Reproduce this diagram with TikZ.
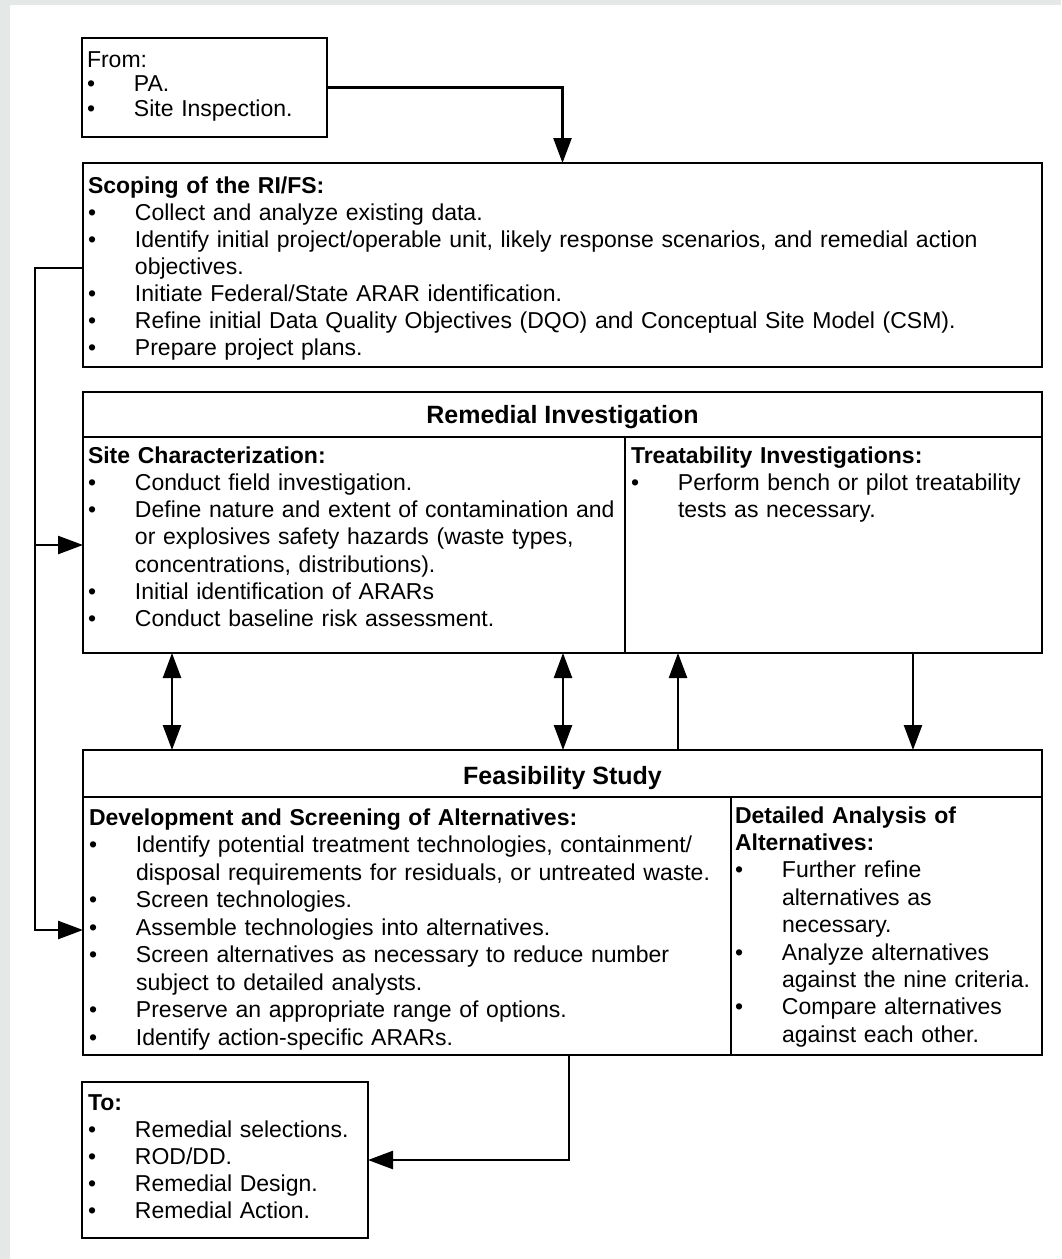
\documentclass[tikz,border=0pt]{standalone}
\usepackage{fontspec}
\setmainfont{Liberation Sans}
\usetikzlibrary{arrows.meta}
\definecolor{bggray}{RGB}{228,233,232}
\newcommand{\bitem}[1]{\par\hangindent=47pt\hangafter=1\noindent\makebox[47pt][l]{\textbullet}#1}
\tikzset{
  box/.style={draw, line width=2.5pt, inner sep=0pt, outer sep=0pt, anchor=north west, fill=white},
  txt/.style={anchor=base west, inner sep=0pt, outer sep=0pt, text width=#1,
    font=\fontsize{23pt}{27.3pt}\selectfont, execute at begin node=\raggedright},
  head/.style={anchor=base, inner sep=0pt, outer sep=0pt, font=\fontsize{25pt}{30pt}\selectfont\bfseries},
  tip/.tip={Triangle[length=25pt,width=18pt]},
  conn/.style={line width=2.5pt, line join=miter},
  arr/.style={conn, -tip},
  darr/.style={conn, tip-tip},
}
\begin{document}
\begin{tikzpicture}[x=1pt,y=-1pt]
\useasboundingbox (0,0) rectangle (1061,1259);
\fill[bggray] (0,0) rectangle (1061,1259);
\fill[white] (10,5) rectangle (1061,1259);

% boxes
\node[box, minimum width=245pt, minimum height=99pt] (from) at (82,38) {};
\node[box, minimum width=959pt, minimum height=204pt] (scop) at (83,163) {};
\node[box, minimum width=959pt, minimum height=45pt] (rih) at (83,392) {};
\node[box, minimum width=542pt, minimum height=216pt] (sc) at (83,437) {};
\node[box, minimum width=417pt, minimum height=216pt] (ti) at (625,437) {};
\node[box, minimum width=959pt, minimum height=47pt] (fsh) at (83,750) {};
\node[box, minimum width=648pt, minimum height=258pt] (dev) at (83,797) {};
\node[box, minimum width=311pt, minimum height=258pt] (det) at (731,797) {};
\node[box, minimum width=286pt, minimum height=156pt] (to) at (82,1082) {};

% texts
\node[txt=300pt, font=\fontsize{23pt}{24.5pt}\selectfont] (fromtxt) at (87,67)
  {From:\bitem{PA.}\bitem{Site Inspection.}\par};
\node[txt=960pt, font=\fontsize{23pt}{27pt}\selectfont] (scoptxt) at (88,193.5)
  {\textbf{Scoping of the RI/FS:}%
   \bitem{Collect and analyze existing data.}%
   \bitem{Identify initial project/operable unit, likely response scenarios, and remedial action\newline objectives.}%
   \bitem{Initiate Federal/State ARAR identification.}%
   \bitem{Refine initial Data Quality Objectives (DQO) and Conceptual Site Model (CSM).}%
   \bitem{Prepare project plans.}\par};
\node[head] (rihtxt) at (562.5,423) {Remedial Investigation};
\node[txt=600pt] (sctxt) at (88,463)
  {\textbf{Site Characterization:}%
   \bitem{Conduct field investigation.}%
   \bitem{Define nature and extent of contamination and\newline or explosives safety hazards (waste types,\newline concentrations, distributions).}%
   \bitem{Initial identification of ARARs}%
   \bitem{Conduct baseline risk assessment.}\par};
\node[txt=500pt] (titxt) at (631,463)
  {\textbf{Treatability Investigations:}%
   \bitem{Perform bench or pilot treatability\newline tests as necessary.}\par};
\node[head] (fshtxt) at (562.5,784) {Feasibility Study};
\node[txt=700pt, font=\fontsize{23pt}{27.5pt}\selectfont] (devtxt) at (89,825)
  {\textbf{Development and Screening of Alternatives:}%
   \bitem{Identify potential treatment technologies, containment/\newline disposal requirements for residuals, or untreated waste.}%
   \bitem{Screen technologies.}%
   \bitem{Assemble technologies into alternatives.}%
   \bitem{Screen alternatives as necessary to reduce number\newline subject to detailed analysts.}%
   \bitem{Preserve an appropriate range of options.}%
   \bitem{Identify action-specific ARARs.}\par};
\node[txt=400pt, font=\fontsize{23pt}{27.4pt}\selectfont] (dettxt) at (735,823)
  {\textbf{Detailed Analysis of\newline Alternatives:}%
   \bitem{Further refine\newline alternatives as\newline necessary.}%
   \bitem{Analyze alternatives\newline against the nine criteria.}%
   \bitem{Compare alternatives\newline against each other.}\par};
\node[txt=400pt, font=\fontsize{23pt}{27pt}\selectfont] (totxt) at (88,1110)
  {\textbf{To:}%
   \bitem{Remedial selections.}%
   \bitem{ROD/DD.}%
   \bitem{Remedial Design.}%
   \bitem{Remedial Action.}\par};

% connector points
\coordinate (lt) at (35,268);
\coordinate (lm) at (35,545);
\coordinate (lb) at (35,930);
\coordinate (c1) at (172,700);
\coordinate (c2) at (563,700);
\coordinate (c3) at (678,700);
\coordinate (c4) at (913,700);
\coordinate (c5) at (569,1160);

% connectors
\draw[arr] (from.east) -| (scop.north);
\draw[arr] (scop.west |- lt) -- (lt) -- (lb) -- (dev.west |- lb);
\draw[arr] (lm) -- (sc.west |- lm);
\draw[darr] (sc.south -| c1) -- (fsh.north -| c1);
\draw[darr] (sc.south -| c2) -- (fsh.north -| c2);
\draw[arr] (fsh.north -| c3) -- (ti.south -| c3);
\draw[arr] (ti.south -| c4) -- (fsh.north -| c4);
\draw[arr] (dev.south -| c5) -- (c5) -- (to.east |- c5);
\end{tikzpicture}
\end{document}
